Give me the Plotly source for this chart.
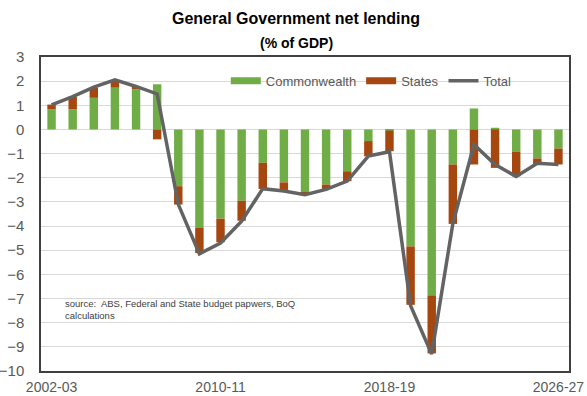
import plotly.graph_objects as go

# Financial years 2002-03 .. 2026-27
years = [f"{y}-{str(y + 1)[-2:]}" for y in range(2002, 2027)]

commonwealth = [0.83, 0.83, 1.31, 1.73, 1.66, 1.87, -2.35, -4.08, -3.69, -2.95,
                -1.38, -2.19, -2.59, -2.28, -1.73, -0.48, -0.05, -4.84, -6.89, -1.45,
                0.87, 0.07, -0.93, -1.20, -0.79]
states = [0.20, 0.53, 0.42, 0.32, 0.10, -0.41, -0.76, -1.04, -0.98, -0.83,
          -1.08, -0.34, -0.11, -0.18, -0.41, -0.63, -0.85, -2.42, -2.38, -2.46,
          -1.45, -1.59, -1.01, -0.25, -0.66]
total = [1.02, 1.36, 1.75, 2.05, 1.78, 1.47, -3.10, -5.15, -4.70, -3.80,
         -2.45, -2.55, -2.70, -2.48, -2.14, -1.10, -0.92, -7.30, -9.30, -3.90,
         -0.62, -1.45, -1.95, -1.40, -1.45]

tick_years = ["2002-03", "2010-11", "2018-19", "2026-27"]
y_ticks = list(range(-10, 4))

GREEN = "#70AD47"
BROWN = "#A5470F"
GREY = "#636363"
FONT = "Liberation Sans, Arial, sans-serif"

fig = go.Figure()
fig.add_trace(go.Bar(x=years, y=commonwealth, name="Commonwealth",
                     marker=dict(color=GREEN, line=dict(width=0)), showlegend=False))
fig.add_trace(go.Bar(x=years, y=states, name="States",
                     marker=dict(color=BROWN, line=dict(width=0)), showlegend=False))
fig.add_trace(go.Scatter(x=years, y=total, name="Total", mode="lines",
                         line=dict(color=GREY, width=3.5), showlegend=False))

# legend entries drawn as wide swatches
for nm, col, w in [("Commonwealth", GREEN, 7), ("States", BROWN, 7), ("Total", GREY, 3.5)]:
    fig.add_trace(go.Scatter(x=[None], y=[None], mode="lines", name=nm,
                             line=dict(color=col, width=w)))

fig.update_layout(
    width=587, height=396,
    margin=dict(l=41, r=18, t=57, b=25),
    paper_bgcolor="white", plot_bgcolor="white",
    barmode="relative", bargap=0.6,
    font=dict(family=FONT, color="#595959", size=14),
    legend=dict(orientation="h", x=0.35, y=0.924, xanchor="left", yanchor="middle",
                bgcolor="rgba(0,0,0,0)", font=dict(size=13, color="#595959"),
                itemwidth=30, tracegroupgap=0),
    annotations=[
        dict(text="<b>General Government net lending</b>", xref="paper", yref="paper",
             x=0.483, y=1, yshift=39, xanchor="center", yanchor="middle", showarrow=False,
             font=dict(size=16, color="black", family=FONT)),
        dict(text="<b>(% of GDP)</b>", xref="paper", yref="paper",
             x=0.483, y=1, yshift=14, xanchor="center", yanchor="middle", showarrow=False,
             font=dict(size=14, color="black", family=FONT)),
        dict(text="source:  ABS, Federal and State budget papwers, BoQ<br>calculations",
             xref="paper", yref="y", x=0.042, y=-7.45, xanchor="left", yanchor="middle",
             align="left", showarrow=False,
             font=dict(size=9.5, color="#404040", family=FONT)),
    ],
)
fig.update_xaxes(type="category", categoryorder="array", categoryarray=years,
                 tickmode="array", tickvals=tick_years, ticktext=tick_years,
                 showgrid=False, ticks="", showline=True, linecolor="#404040",
                 linewidth=1.5, mirror=True, ticklabelstandoff=2, automargin=False,
                 tickfont=dict(size=14, color="#595959"))
fig.update_yaxes(range=[-10, 3], tickvals=y_ticks, showgrid=True, gridcolor="#D9D9D9",
                 gridwidth=1, zeroline=True, zerolinecolor="#D9D9D9", zerolinewidth=1,
                 showline=True, linecolor="#404040", linewidth=1.5, mirror=True,
                 ticks="", ticklabelstandoff=12, automargin=False,
                 tickfont=dict(size=15, color="#595959"))

fig.write_html("out.html")
